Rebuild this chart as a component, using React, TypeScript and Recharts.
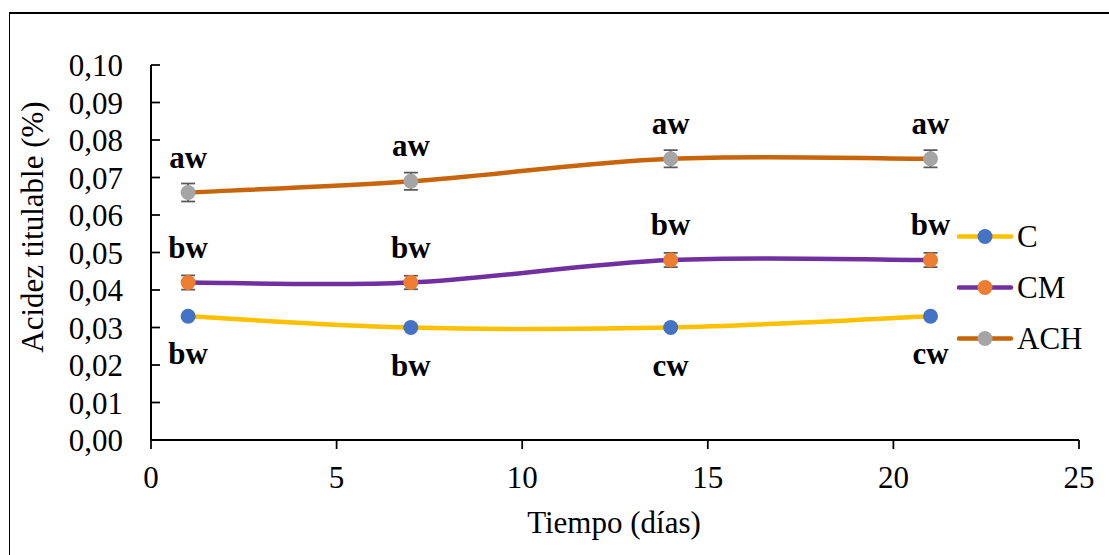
import React from 'react';
import { LineChart, Line, XAxis, YAxis, ErrorBar, LabelList, Legend } from 'recharts';

const days = [1, 7, 14, 21];
const cValues = [0.033, 0.03, 0.03, 0.033];
const cmValues = [0.042, 0.042, 0.048, 0.048];
const achValues = [0.066, 0.069, 0.075, 0.075];
const cErrors = [0.0005, 0.0005, 0.0005, 0.0005];
const cmErrors = [0.0019, 0.0018, 0.0019, 0.0019];
const achErrors = [0.0024, 0.0023, 0.0023, 0.0023];
const cLabels = ['bw', 'bw', 'cw', 'cw'];
const cmLabels = ['bw', 'bw', 'bw', 'bw'];
const achLabels = ['aw', 'aw', 'aw', 'aw'];
const xTicks = [0, 5, 10, 15, 20, 25];
const yTicks = [0, 0.01, 0.02, 0.03, 0.04, 0.05, 0.06, 0.07, 0.08, 0.09, 0.1];
const seriesNames = ['C', 'CM', 'ACH'];
const lineColors = ['#FFC000', '#7030A0', '#C8640A'];
const markerColors = ['#4472C4', '#ED7D31', '#A5A5A5'];

const FONT = '"Liberation Serif", "Times New Roman", serif';
const FS = 31;

const data = days.map((d, i) => ({
  day: d,
  c: cValues[i],
  cm: cmValues[i],
  ach: achValues[i],
  cErr: cErrors[i],
  cmErr: cmErrors[i],
  achErr: achErrors[i],
  cLab: cLabels[i],
  cmLab: cmLabels[i],
  achLab: achLabels[i],
}));

function excelSmooth(context: any) {
  let pts: number[][] = [];
  return {
    areaStart() {},
    areaEnd() {},
    lineStart() {
      pts = [];
    },
    point(x: number, y: number) {
      pts.push([+x, +y]);
    },
    lineEnd() {
      const n = pts.length;
      if (!n) return;
      context.moveTo(pts[0][0], pts[0][1]);
      if (n === 1) return;
      for (let i = 0; i < n - 1; i++) {
        const p0 = pts[Math.max(i - 1, 0)];
        const p1 = pts[i];
        const p2 = pts[i + 1];
        const p3 = pts[Math.min(i + 2, n - 1)];
        context.bezierCurveTo(
          p1[0] + (p2[0] - p0[0]) / 6,
          p1[1] + (p2[1] - p0[1]) / 6,
          p2[0] - (p3[0] - p1[0]) / 6,
          p2[1] - (p3[1] - p1[1]) / 6,
          p2[0],
          p2[1]
        );
      }
    },
  };
}

const makeLabel = (offset: number) => (props: any) => {
  const x = props.x ?? props.viewBox?.x;
  const y = props.y ?? props.viewBox?.y;
  if (x == null || y == null) return null;
  return (
    <text
      x={x}
      y={y + offset}
      textAnchor="middle"
      fontFamily={FONT}
      fontSize={FS}
      fontWeight="bold"
      fill="#000"
    >
      {props.value}
    </text>
  );
};

const YTick = (props: any) => {
  const { x, y, payload } = props;
  return (
    <g>
      <line x1={x} x2={x + 9} y1={y} y2={y} stroke="#000" strokeWidth={1.75} />
      <text x={x - 28} y={y} dy={11} textAnchor="end" fontFamily={FONT} fontSize={FS} fill="#000">
        {Number(payload.value).toFixed(2).replace('.', ',')}
      </text>
    </g>
  );
};

const XTick = (props: any) => {
  const { x, y, payload } = props;
  return (
    <text x={x} y={y} dy={39} textAnchor="middle" fontFamily={FONT} fontSize={FS} fill="#000">
      {payload.value}
    </text>
  );
};

const LegendContent = () => (
  <svg width={160} height={153}>
    {seriesNames.map((name, i) => {
      const cy = 25.5 + i * 51;
      return (
        <g key={name}>
          <line x1={2} x2={54} y1={cy} y2={cy} stroke={lineColors[i]} strokeWidth={4.5} strokeLinecap="round" />
          <circle cx={28} cy={cy} r={7.5} fill={markerColors[i]} />
          <text x={60} y={cy + 10} fontFamily={FONT} fontSize={FS} fill="#000">
            {name}
          </text>
        </g>
      );
    })}
  </svg>
);

export default function App() {
  return (
    <div style={{ position: 'absolute', left: 0, top: 0, width: 1109, height: 555, overflow: 'hidden', background: '#fff' }}>
      <div
        style={{
          position: 'absolute',
          left: 9,
          top: 12,
          width: 1300,
          height: 700,
          borderTop: '2px solid #000',
          borderLeft: '1.5px solid #000',
        }}
      />
      <div style={{ position: 'absolute', left: 0, top: 0 }}>
        <LineChart width={1109} height={555} data={data} margin={{ top: 65, right: 30, left: 0, bottom: 0 }}>
          <XAxis
            dataKey="day"
            type="number"
            domain={[0, 25]}
            ticks={xTicks}
            height={115}
            tickSize={9}
            tickMargin={0}
            axisLine={{ stroke: '#000', strokeWidth: 2 }}
            tickLine={{ stroke: '#000', strokeWidth: 1.75 }}
            tick={<XTick />}
            interval={0}
          />
          <YAxis
            type="number"
            domain={[0, 0.1]}
            ticks={yTicks}
            width={151}
            tickSize={0}
            tickMargin={0}
            tickLine={false}
            axisLine={{ stroke: '#000', strokeWidth: 2 }}
            tick={<YTick />}
            interval={0}
          />
          <Legend
            align="center"
            verticalAlign="middle"
            content={<LegendContent />}
            wrapperStyle={{ left: 957, top: 210.5, width: 160, height: 153 }}
          />
          <Line
            dataKey="c"
            name="C"
            type={excelSmooth as any}
            stroke={lineColors[0]}
            strokeWidth={4.5}
            dot={{ r: 7.5, fill: markerColors[0], stroke: markerColors[0], strokeWidth: 0 }}
            activeDot={false}
            isAnimationActive={false}
          >
            <ErrorBar dataKey="cErr" width={3} stroke="#595959" strokeWidth={1.5} direction="y" />
            <LabelList dataKey="cLab" content={makeLabel(48)} />
          </Line>
          <Line
            dataKey="cm"
            name="CM"
            type={excelSmooth as any}
            stroke={lineColors[1]}
            strokeWidth={4.5}
            dot={{ r: 7.5, fill: markerColors[1], stroke: markerColors[1], strokeWidth: 0 }}
            activeDot={false}
            isAnimationActive={false}
          >
            <ErrorBar dataKey="cmErr" width={7} stroke="#595959" strokeWidth={1.75} direction="y" />
            <LabelList dataKey="cmLab" content={makeLabel(-25)} />
          </Line>
          <Line
            dataKey="ach"
            name="ACH"
            type={excelSmooth as any}
            stroke={lineColors[2]}
            strokeWidth={4.5}
            dot={{ r: 7.5, fill: markerColors[2], stroke: markerColors[2], strokeWidth: 0 }}
            activeDot={false}
            isAnimationActive={false}
          >
            <ErrorBar dataKey="achErr" width={7} stroke="#595959" strokeWidth={1.75} direction="y" />
            <LabelList dataKey="achLab" content={makeLabel(-25)} />
          </Line>
          <text
            x={42.5}
            y={227}
            transform="rotate(-90 42.5 227)"
            textAnchor="middle"
            fontFamily={FONT}
            fontSize={FS}
            fill="#000"
          >
            Acidez titulable (%)
          </text>
          <text x={614} y={533} textAnchor="middle" fontFamily={FONT} fontSize={FS} fill="#000">
            Tiempo (días)
          </text>
        </LineChart>
      </div>
    </div>
  );
}
